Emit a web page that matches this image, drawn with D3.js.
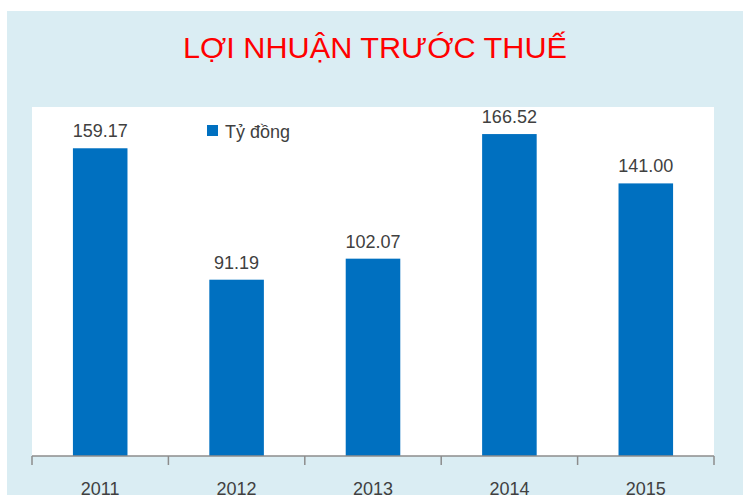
<!DOCTYPE html>
<html>
<head>
<meta charset="utf-8">
<script src="https://d3js.org/d3.v7.min.js"></script>
<style>
  html, body { margin: 0; padding: 0; background: #fff; }
  svg { display: block; }
</style>
</head>
<body>
<svg id="chart"></svg>
<script>
  // Data
  const years = ["2011", "2012", "2013", "2014", "2015"];
  const profit = [159.17, 91.19, 102.07, 166.52, 141.0];
  const seriesName = "Tỷ đồng";
  const title = "LỢI NHUẬN TRƯỚC THUẾ";

  const width = 743;
  const height = 495;

  const svg = d3.select("#chart").attr("width", width).attr("height", height);

  // light blue panel behind everything
  svg.append("rect")
    .attr("x", 7).attr("y", 11)
    .attr("width", width - 7).attr("height", height - 11)
    .attr("fill", "#daedf3");

  // plot area
  const plot = { left: 32, right: 714, top: 107, bottom: 456 };

  svg.append("rect")
    .attr("x", plot.left).attr("y", plot.top)
    .attr("width", plot.right - plot.left)
    .attr("height", plot.bottom - plot.top)
    .attr("fill", "#ffffff");

  svg.append("text")
    .attr("x", 183).attr("y", 58)
    .attr("textLength", 384)
    .attr("lengthAdjust", "spacingAndGlyphs")
    .attr("font-family", "Liberation Sans, Arial, sans-serif")
    .attr("font-size", 30)
    .attr("fill", "#ff0000")
    .text(title);

  const x = d3.scaleBand().domain(years).range([plot.left, plot.right]).padding(0);
  const y = d3.scaleLinear().domain([0, 180]).range([plot.bottom, plot.top + 1]);

  const barW = x.bandwidth() * 0.4;

  svg.append("g")
    .selectAll("rect")
    .data(years)
    .join("rect")
    .attr("x", (d) => x(d) + (x.bandwidth() - barW) / 2)
    .attr("y", (d, i) => y(profit[i]))
    .attr("width", barW)
    .attr("height", (d, i) => y(0) - y(profit[i]))
    .attr("fill", "#0070c0");

  // value labels
  svg.append("g")
    .selectAll("text")
    .data(years)
    .join("text")
    .attr("x", (d) => x(d) + x.bandwidth() / 2)
    .attr("y", (d, i) => y(profit[i]) - 11)
    .attr("text-anchor", "middle")
    .attr("font-family", "Liberation Sans, Arial, sans-serif")
    .attr("font-size", 18)
    .attr("fill", "#404040")
    .text((d, i) => profit[i].toFixed(2));

  // x axis: line + ticks on band edges
  const axis = svg.append("g").attr("stroke", "#8c8c8c").attr("stroke-width", 1.5);
  axis.append("line")
    .attr("x1", plot.left).attr("x2", plot.right)
    .attr("y1", plot.bottom).attr("y2", plot.bottom);
  const edges = years.map((d) => x(d)).concat([plot.right]);
  axis.selectAll("line.tick")
    .data(edges)
    .join("line")
    .attr("class", "tick")
    .attr("x1", (d) => d).attr("x2", (d) => d)
    .attr("y1", plot.bottom).attr("y2", plot.bottom + 9);

  svg.append("g")
    .selectAll("text")
    .data(years)
    .join("text")
    .attr("x", (d) => x(d) + x.bandwidth() / 2)
    .attr("y", 495)
    .attr("text-anchor", "middle")
    .attr("font-family", "Liberation Sans, Arial, sans-serif")
    .attr("font-size", 18)
    .attr("fill", "#404040")
    .text((d) => d);

  // legend
  const legend = svg.append("g").attr("transform", "translate(207,125)");
  legend.append("rect")
    .attr("width", 11).attr("height", 11)
    .attr("fill", "#0070c0");
  legend.append("text")
    .attr("x", 18).attr("y", 13)
    .attr("font-family", "Liberation Sans, Arial, sans-serif")
    .attr("font-size", 18)
    .attr("fill", "#404040")
    .text(seriesName);
</script>
</body>
</html>
